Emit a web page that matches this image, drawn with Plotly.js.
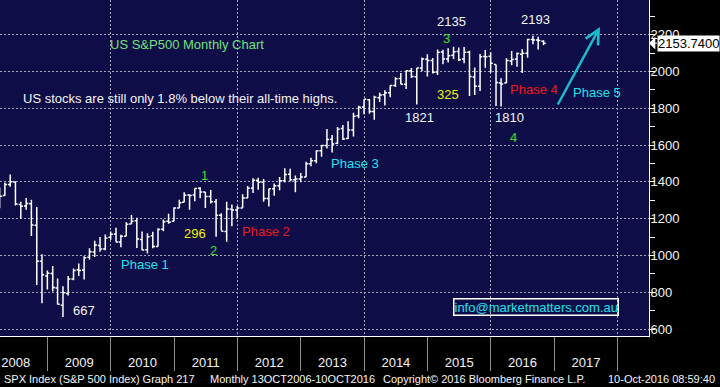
<!DOCTYPE html>
<html>
<head>
<meta charset="utf-8">
<script src="https://cdn.plot.ly/plotly-3.0.1.min.js"></script>
<style>
html,body{margin:0;padding:0;background:#000;}
#chart{width:720px;height:387px;}
</style>
</head>
<body>
<div id="chart"></div>
<script>
// Month-end dates for the monthly bars (Mar 2008 - Oct 2016)
const months = [
 '2008-03-31','2008-04-30','2008-05-31','2008-06-30','2008-07-31','2008-08-31','2008-09-30','2008-10-31','2008-11-30','2008-12-31',
 '2009-01-31','2009-02-28','2009-03-31','2009-04-30','2009-05-31','2009-06-30','2009-07-31','2009-08-31','2009-09-30','2009-10-31','2009-11-30','2009-12-31',
 '2010-01-31','2010-02-28','2010-03-31','2010-04-30','2010-05-31','2010-06-30','2010-07-31','2010-08-31','2010-09-30','2010-10-31','2010-11-30','2010-12-31',
 '2011-01-31','2011-02-28','2011-03-31','2011-04-30','2011-05-31','2011-06-30','2011-07-31','2011-08-31','2011-09-30','2011-10-31','2011-11-30','2011-12-31',
 '2012-01-31','2012-02-29','2012-03-31','2012-04-30','2012-05-31','2012-06-30','2012-07-31','2012-08-31','2012-09-30','2012-10-31','2012-11-30','2012-12-31',
 '2013-01-31','2013-02-28','2013-03-31','2013-04-30','2013-05-31','2013-06-30','2013-07-31','2013-08-31','2013-09-30','2013-10-31','2013-11-30','2013-12-31',
 '2014-01-31','2014-02-28','2014-03-31','2014-04-30','2014-05-31','2014-06-30','2014-07-31','2014-08-31','2014-09-30','2014-10-31','2014-11-30','2014-12-31',
 '2015-01-31','2015-02-28','2015-03-31','2015-04-30','2015-05-31','2015-06-30','2015-07-31','2015-08-31','2015-09-30','2015-10-31','2015-11-30','2015-12-31',
 '2016-01-31','2016-02-29','2016-03-31','2016-04-30','2016-05-31','2016-06-30','2016-07-31','2016-08-31','2016-09-30','2016-10-31'
];
const openP = [
 1330.45,1326.41,1385.97,1399.62,1276.69,1269.42,1281.56,1164.17,968.67,888.61,
 902.99,823.09,729.57,793.59,872.74,923.26,920.82,990.22,1019.52,1054.91,1036.18,1098.89,
 1116.56,1073.89,1105.36,1171.23,1188.58,1087.30,1031.10,1107.53,1049.72,1143.49,1185.71,1186.60,
 1257.62,1289.14,1328.64,1329.48,1365.21,1345.20,1320.64,1292.59,1219.12,1131.21,1251.00,1246.91,
 1258.86,1312.45,1365.90,1408.47,1397.86,1309.87,1362.33,1379.32,1406.54,1440.90,1412.20,1416.18,
 1426.19,1498.11,1514.68,1569.18,1597.55,1631.71,1609.78,1689.42,1635.95,1682.41,1758.70,1806.55,
 1845.86,1782.68,1857.68,1873.96,1884.66,1923.87,1962.29,1929.80,2004.07,1971.44,2018.21,2065.78,
 2058.90,1996.67,2105.23,2067.63,2087.38,2108.64,2067.00,2104.49,1970.09,1919.65,2080.76,2082.93,
 2038.20,1936.94,1937.09,2056.62,2067.17,2093.94,2099.34,2173.15,2171.33,2164.33
];
const highP = [
 1369.15,1397.00,1440.24,1404.05,1292.17,1313.15,1303.04,1264.12,1007.51,918.85,
 943.85,875.01,832.98,888.70,930.17,956.23,996.68,1039.47,1080.15,1101.36,1113.69,1130.38,
 1150.45,1112.42,1180.69,1219.80,1205.13,1131.23,1120.95,1129.24,1148.67,1196.14,1227.08,1262.60,
 1302.67,1344.07,1332.28,1364.56,1370.58,1345.20,1356.48,1307.38,1229.29,1292.66,1277.55,1269.37,
 1333.47,1378.04,1419.15,1422.38,1415.32,1363.46,1391.74,1426.68,1474.51,1470.96,1434.27,1448.00,
 1509.94,1530.94,1570.28,1597.57,1687.18,1654.19,1698.78,1709.67,1729.86,1775.22,1813.55,1849.44,
 1850.84,1867.92,1883.97,1897.28,1924.03,1968.17,1991.39,2005.04,2019.26,2018.19,2075.76,2093.55,
 2072.36,2119.59,2117.52,2125.92,2134.72,2129.87,2132.82,2112.66,2020.86,2094.32,2116.48,2104.27,
 2038.20,1962.96,2072.21,2111.05,2103.48,2120.55,2177.09,2193.81,2187.87,2169.60
];
const lowP = [
 1256.98,1324.35,1373.07,1272.00,1200.44,1248.64,1106.42,839.80,741.02,815.69,
 804.22,734.52,666.79,783.32,866.10,888.86,869.32,978.51,991.97,1020.18,1029.38,1085.89,
 1071.59,1044.50,1105.36,1170.69,1040.78,1028.33,1010.91,1039.70,1049.72,1131.87,1173.00,1186.60,
 1257.62,1289.14,1249.05,1294.70,1311.80,1258.07,1282.86,1101.54,1136.22,1074.77,1158.66,1202.37,
 1258.86,1312.45,1340.03,1357.38,1291.98,1266.74,1325.41,1354.65,1396.56,1403.28,1343.35,1398.11,
 1426.19,1485.01,1501.48,1536.03,1581.28,1560.33,1604.57,1627.47,1633.41,1646.47,1746.20,1767.99,
 1770.45,1737.92,1834.44,1814.36,1859.79,1915.98,1930.67,1904.78,1964.04,1820.66,2001.01,1972.56,
 1988.12,1980.90,2039.69,2048.38,2067.93,2056.32,2044.02,1867.01,1871.91,1893.70,2019.39,1993.26,
 1812.29,1810.10,1937.09,2033.80,2025.91,1991.68,2074.02,2147.58,2119.12,2142.63
];
const closeP = [
 1322.70,1385.59,1400.38,1280.00,1267.38,1282.83,1166.36,968.75,896.24,903.25,
 825.88,735.09,797.87,872.81,919.14,919.32,987.48,1020.62,1057.08,1036.19,1095.63,1115.10,
 1073.87,1104.49,1169.43,1186.69,1089.41,1030.71,1101.60,1049.33,1141.20,1183.26,1180.55,1257.64,
 1286.12,1327.22,1325.83,1363.61,1345.20,1320.64,1292.28,1218.89,1131.42,1253.30,1246.96,1257.60,
 1312.41,1365.68,1408.47,1397.91,1310.33,1362.16,1379.32,1406.58,1440.67,1412.16,1416.18,1426.19,
 1498.11,1514.68,1569.19,1597.57,1630.74,1606.28,1685.73,1632.97,1681.55,1756.54,1805.81,1848.36,
 1782.59,1859.45,1872.34,1883.95,1923.57,1960.23,1930.67,2003.37,1972.29,2018.05,2067.56,2058.90,
 1994.99,2104.50,2067.89,2085.51,2107.39,2063.11,2103.84,1972.18,1920.03,2079.36,2080.41,2043.94,
 1940.24,1932.23,2059.74,2065.30,2096.95,2098.86,2173.60,2170.95,2168.27,2153.74
];
const yTicks = [600, 800, 1000, 1200, 1400, 1600, 1800, 2000, 2200];
const labelTexts = ['667','296','1','2','1821','325','2135','3','1810','4','2193'];
const phaseTexts = ['Phase 1','Phase 2','Phase 3','Phase 4','Phase 5'];
const chartTitle = 'US S&P500 Monthly Chart';
const comment = 'US stocks are still only 1.8% below their all-time highs.';
const email = 'info@marketmatters.com.au';
const footer = ['SPX Index (S&P 500 Index) Graph 217', 'Monthly 13OCT2006-10OCT2016', 'Copyright\u00a9 2016 Bloomberg Finance L.P.', '10-Oct-2016 08:59:40'];

const PW = 649, PH = 336;
const FONT = 'Liberation Sans, Arial, sans-serif';
const XRANGE = ['2008-04-02', '2018-07-01'];
const px = v => v / PW;
const py = v => 1 - v / PH;
const GREEN = '#2fe02f', CYAN = '#1fe3ea', RED = '#f01818', YEL = '#f2f200', WHITE = '#f4f4f4';

function txt(t, cx, cy, color, size, anchor) {
  return {text: t, xref: 'paper', yref: 'paper', x: px(cx), y: py(cy),
    xanchor: anchor || 'center', yanchor: 'middle', showarrow: false,
    font: {family: FONT, size: size || 13, color: color}};
}

const annotations = [
  txt(chartTitle, 187, 45, '#74e07a'),
  txt(comment, 180, 98, WHITE),
  txt(labelTexts[0], 84, 310, WHITE),
  txt(phaseTexts[0], 145, 264, CYAN),
  txt(labelTexts[1], 195, 233, YEL),
  txt(labelTexts[2], 204, 175, GREEN),
  txt(labelTexts[3], 213, 250, GREEN),
  txt(phaseTexts[1], 266, 231, RED),
  txt(phaseTexts[2], 355, 163, CYAN),
  txt(labelTexts[4], 419, 117, WHITE),
  txt(labelTexts[5], 448, 94, YEL),
  txt(labelTexts[6], 451, 22, WHITE),
  txt(labelTexts[7], 446, 38, GREEN),
  txt(phaseTexts[3], 534, 90, RED),
  txt(labelTexts[8], 510, 118, WHITE),
  txt(labelTexts[9], 513, 137, GREEN),
  txt(labelTexts[10], 535, 19, WHITE),
  txt(phaseTexts[4], 597, 92, CYAN),
  // Phase 5 arrow
  {text: '', xref: 'paper', yref: 'paper', x: px(600), y: py(27), ax: -43, ay: 79,
   showarrow: true, arrowhead: 5, arrowsize: 1.1, arrowwidth: 2.5, arrowcolor: '#18bccb'},
  // email box
  Object.assign(txt(email, 536, 306.5, CYAN), {bordercolor: '#ffffff', borderwidth: 1.5, borderpad: 0}),
  // last price tag
  {text: closeP[closeP.length - 1].toFixed(4), xref: 'paper', yref: 'y', x: 1, y: closeP[closeP.length - 1],
   ax: 8, ay: 0, xanchor: 'left', yanchor: 'middle', showarrow: true, arrowhead: 1, arrowsize: 2.1,
   arrowwidth: 1, arrowcolor: '#ffffff', bgcolor: '#ffffff', borderpad: 0,
   font: {family: FONT, size: 13, color: '#000000'}},
  // footer
  txt(footer[0], 2, 379, WHITE, 11, 'left'),
  txt(footer[1], 208, 379, WHITE, 11, 'left'),
  txt(footer[2], 381, 379, WHITE, 11, 'left'),
  txt(footer[3], 717, 379, WHITE, 11, 'right')
];

const traces = [
  {type: 'ohlc', x: months, open: openP, high: highP, low: lowP, close: closeP,
   increasing: {line: {color: '#ffffff', width: 1.5}},
   decreasing: {line: {color: '#ffffff', width: 1.5}},
   tickwidth: 0.45, hoverinfo: 'skip', showlegend: false},
  {type: 'scatter', x: [], y: [], xaxis: 'x2', yaxis: 'y', showlegend: false, hoverinfo: 'skip'}
];

const layout = {
  width: 720, height: 387,
  margin: {l: 0, r: 71, t: 0, b: 51, pad: 0},
  paper_bgcolor: '#000000',
  plot_bgcolor: '#0f0d48',
  showlegend: false,
  xaxis: {
    type: 'date', range: XRANGE, rangeslider: {visible: false},
    dtick: 'M12', tick0: '2008-01-01', tickformat: '%Y', ticklabelmode: 'period',
    ticks: 'outside', ticklen: 34, tickcolor: '#8c8c8c', tickwidth: 1,
    ticklabelstandoff: -20,
    tickfont: {family: FONT, size: 13, color: WHITE},
    showgrid: false, zeroline: false,
    showline: true, linecolor: '#ffffff', linewidth: 1
  },
  xaxis2: {
    type: 'date', range: XRANGE, overlaying: 'x', anchor: 'y', side: 'bottom',
    dtick: 'M24', tick0: '2010-01-01', ticks: '', showticklabels: false,
    showgrid: true, gridcolor: '#a4a4b4', griddash: '2px,2px', gridwidth: 1,
    zeroline: false, showline: false
  },
  yaxis: {
    side: 'right', range: [563, 2388], tickvals: yTicks, ticktext: yTicks.map(String),
    tickprefix: '<span style="font-size:9px">\u25BA</span>',
    ticks: '', ticklabelstandoff: -2,
    minor: {dtick: 100, ticks: 'outside', ticklen: 5, tickcolor: '#ffffff', tickwidth: 1, showgrid: false},
    tickfont: {family: FONT, size: 13, color: WHITE},
    showgrid: true, gridcolor: '#a4a4b4', griddash: '2px,2px', gridwidth: 1,
    zeroline: false, showline: true, linecolor: '#ffffff', linewidth: 1
  },
  annotations: annotations
};

Plotly.newPlot('chart', traces, layout, {staticPlot: true, displayModeBar: false});
</script>
</body>
</html>
